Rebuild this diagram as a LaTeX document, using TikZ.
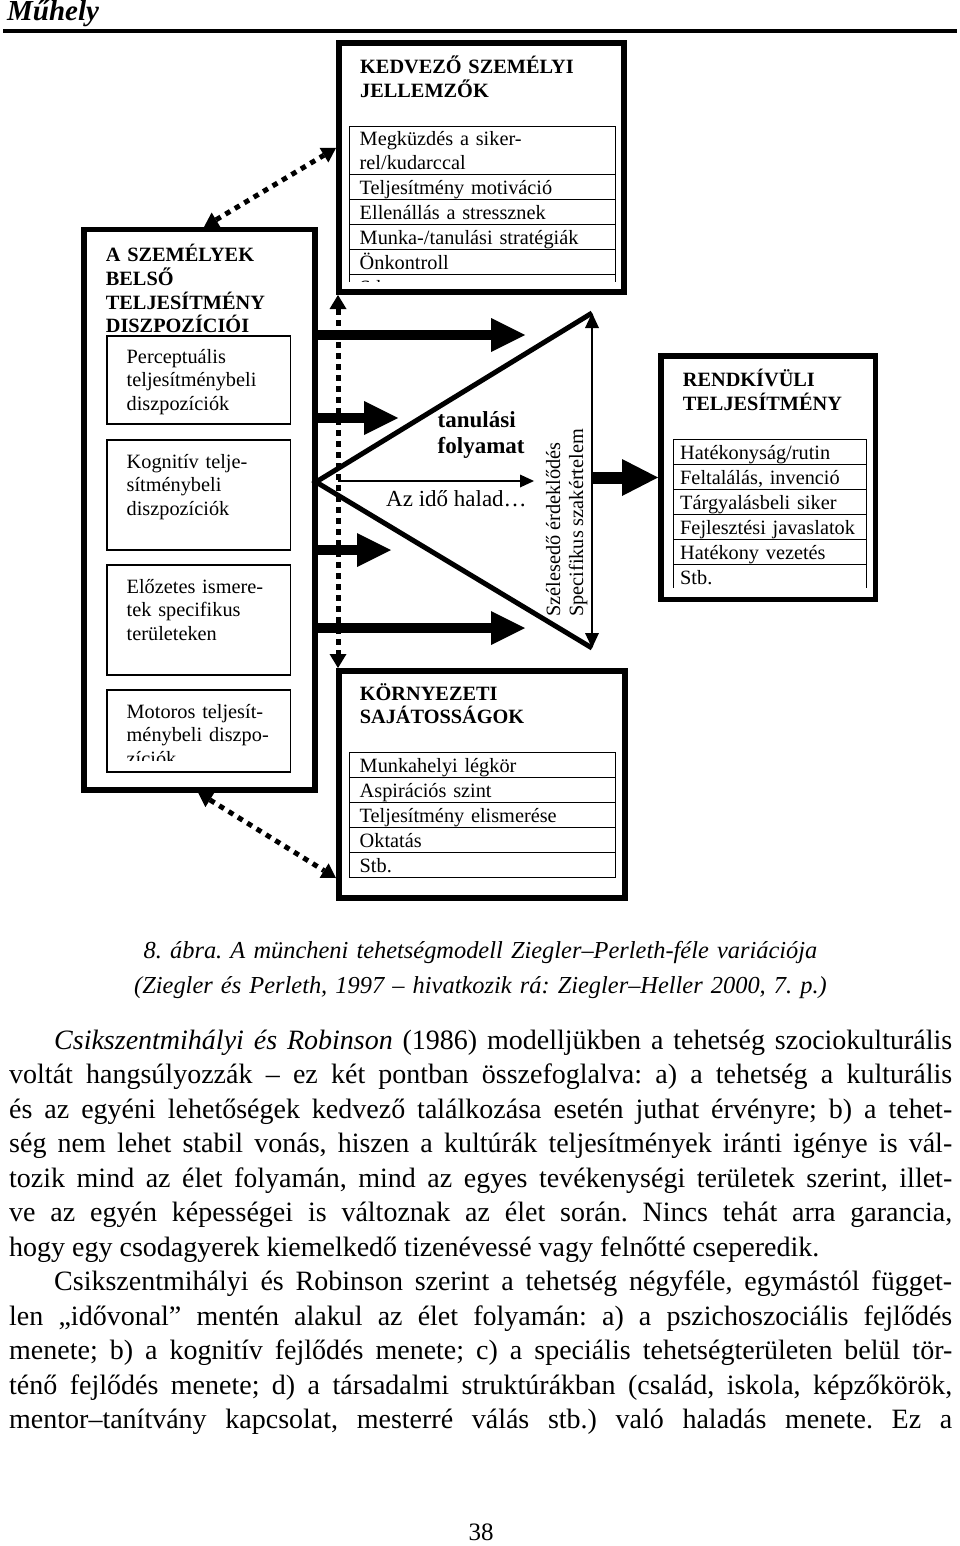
\documentclass[tikz,border=0pt]{standalone}
\usepackage{fontspec}
\setmainfont{Liberation Serif}
\usetikzlibrary{arrows.meta}
\frenchspacing
\newcommand\diagsize{\fontsize{20.3pt}{23.7pt}\selectfont}
\newcommand\learnsize{\fontsize{23pt}{26pt}\selectfont}
\newcommand\capsize{\fontsize{24.4pt}{35pt}\selectfont}
\newcommand\bodysize{\fontsize{28pt}{34.5pt}\selectfont}
\newcommand\headsize{\fontsize{29pt}{30pt}\selectfont}
\newcommand\pagesize{\fontsize{25pt}{30pt}\selectfont}
\newcommand\bodyline[1]{\hbox to 943pt{\spaceskip=.25em plus .8em minus .09em\relax #1}}
\tikzset{
  outerbox/.style={draw, line width=5.5pt, inner sep=0pt, anchor=north west},
  dispobox/.style={draw, fill=white, line width=1.8pt, inner sep=0pt, anchor=north west, minimum width=183.5pt},
  cell/.style={draw, line width=1.4pt, inner sep=0pt, anchor=north west, minimum height=25pt,
    text height=16.5pt, text depth=2.5pt, align=left, font=\diagsize},
  wide cell/.style={cell, minimum width=266pt, text width=246pt},
  narrow cell/.style={cell, minimum width=193pt, text width=180pt},
  boxtitle/.style={anchor=base west, inner sep=0pt, align=left, font=\diagsize\bfseries},
  boxtext/.style={anchor=base west, inner sep=0pt, align=left, text width=175pt, font=\diagsize},
  bigarrow/.style={line width=10pt, -{Triangle[length=34pt,width=34pt,line width=0pt]}},
  dotarrow/.style={line width=5pt, dash pattern=on 5.5pt off 5.5pt,
    {Triangle[length=14pt,width=17pt,line width=0pt]}-{Triangle[length=14pt,width=17pt,line width=0pt]}},
  thinarrow/.style={line width=1.3pt, -{Triangle[length=14pt,width=13pt,line width=0pt]}},
  spanarrow/.style={line width=1.3pt, {Triangle[length=15pt,width=14pt,line width=0pt]}-{Triangle[length=15pt,width=14pt,line width=0pt]}},
  triline/.style={line width=5pt}
}
\begin{document}
\begin{tikzpicture}[x=1pt,y=-1pt]
    \useasboundingbox (0,0) rectangle (960,1546);
    \fill [white] (0,0) rectangle (960,1546);

    \node [anchor=base west, inner sep=0pt, font=\headsize\bfseries\itshape] (head) at (7,21) {Műhely};
    \draw [line width=4pt] (3,31) -- (957,31);

    \node [outerbox, line width=6pt, minimum width=285pt, minimum height=249pt] (kedv) at (336,40) {};
    \node [boxtitle, text width=250pt] (kedvtitle) at (360,74) {KEDVEZŐ SZEMÉLYI\\JELLEMZŐK};
    \node [wide cell, minimum height=48pt, text depth=26.2pt] (kc0) at (349,126) {Megküzdés a siker-\\rel/kudarccal};
    \foreach \lbl [count=\i] in {Teljesítmény motiváció, Ellenállás a stressznek, Munka-/tanulási stratégiák, Önkontroll}
        \node [wide cell] (kc\i) at (349,149+25*\i) {\lbl};
    \begin{scope}
        \clip (340,270) rectangle (620,281);
        \node [wide cell] (kc5) at (349,274) {Stb.};
    \end{scope}

    \node [outerbox, minimum width=231pt, minimum height=560pt] (dispo) at (81,227) {};
    \node [boxtitle, text width=200pt] (dispotitle) at (105.7,261.7) {A SZEMÉLYEK\\BELSŐ\\TELJESÍTMÉNY\\DISZPOZÍCIÓI};
    \node [dispobox, minimum height=88pt] (perc) at (106,335) {};
    \node [boxtext] (perctext) at (126.5,363) {Perceptuális\\teljesítménybeli\\diszpozíciók};
    \node [dispobox, minimum height=110pt] (kogn) at (106,439) {};
    \node [boxtext] (kogntext) at (126.5,468) {Kognitív telje-\\sítménybeli\\diszpozíciók};
    \node [dispobox, minimum height=110pt] (elo) at (106,564) {};
    \node [boxtext] (elotext) at (126.5,593) {Előzetes ismere-\\tek specifikus\\területeken};
    \node [dispobox, minimum height=82pt] (motor) at (106,689) {};
    \begin{scope}
        \clip (100,695) rectangle (295,760);
        \node [boxtext] (motortext) at (126.5,718) {Motoros teljesít-\\ménybeli diszpo-\\zíciók};
    \end{scope}

    \node [outerbox, line width=6pt, minimum width=286pt, minimum height=227pt] (korny) at (336,668) {};
    \node [boxtitle, text width=250pt] (kornytitle) at (359.7,700) {KÖRNYEZETI\\SAJÁTOSSÁGOK};
    \foreach \lbl [count=\i from 0] in {Munkahelyi légkör, Aspirációs szint, Teljesítmény elismerése, Oktatás, Stb.}
        \node [wide cell] (nc\i) at (349,752+25*\i) {\lbl};

    \node [outerbox, minimum width=214.5pt, minimum height=243.5pt] (rend) at (658,353) {};
    \node [boxtitle, text width=190pt] (rendtitle) at (682.7,386.7) {RENDKÍVÜLI\\TELJESÍTMÉNY};
    \foreach \lbl [count=\i from 0] in {Hatékonyság/rutin, {Feltalálás, invenció}, Tárgyalásbeli siker, Fejlesztési javaslatok, Hatékony vezetés}
        \node [narrow cell] (rc\i) at (673,439+25*\i) {\lbl};
    \begin{scope}
        \clip (665,560) rectangle (875,587);
        \node [narrow cell] (rc5) at (673,564) {Stb.};
    \end{scope}

    \coordinate (spantop) at (592,313);
    \coordinate (spanbot) at (592,648);
    \coordinate (apex) at (316,482);
    \coordinate (a1) at (525,335);
    \coordinate (a2) at (398,418);
    \coordinate (a3) at (391,550);
    \coordinate (a4) at (525,628);
    \coordinate (timestart) at (338,481);
    \coordinate (timeend) at (534,481);

    \draw [triline] (spantop) -- (apex) -- (spanbot);
    \draw [spanarrow] (spanbot) -- (spantop);
    \foreach \tip in {a1,a2,a3,a4}
        \draw [bigarrow] (\tip -| dispo.east) -- (\tip);
    \draw [line width=12pt, -{Triangle[length=36pt,width=37pt,line width=0pt]}] (rend.west -| spantop) -- (rend.west);
    \draw [thinarrow] (timestart) -- (timeend);
    \draw [dotarrow] ([xshift=2pt]kedv.south west) -- ([xshift=2pt]korny.north west);
    \draw [dotarrow] ([xshift=123pt]dispo.north west) -- ([yshift=-108pt]kedv.north west);
    \draw [dotarrow] ([xshift=117pt]dispo.south west) -- ([yshift=-210pt]korny.north west);

    \node [anchor=base west, inner sep=0pt, align=left, text width=120pt, font=\learnsize\bfseries] (learn) at (437.5,427) {tanulási\\folyamat};
    \node [anchor=base west, inner sep=0pt, font=\learnsize] (time) at (386,506.7) {Az idő halad…};
    \node [anchor=base west, inner sep=0pt, rotate=90, font=\diagsize] (broad) at (560,617) {Szélesedő érdeklődés};
    \node [anchor=base west, inner sep=0pt, rotate=90, font=\diagsize] (expert) at (583,617) {Specifikus szakértelem};

    \node [anchor=base, inner sep=0pt, text width=900pt, align=center, font=\capsize\itshape] (caption) at (480.5,958)
        {8. ábra. A müncheni tehetségmodell Ziegler–Perleth-féle variációja\\(Ziegler és Perleth, 1997 – hivatkozik rá: Ziegler–Heller 2000, 7. p.)};

    \node [anchor=base west, inner sep=0pt, text width=943pt, font=\bodysize] (body) at (9,1049) {\frenchspacing
        \bodyline{\hspace*{45pt}\textit{Csikszentmihályi és Robinson} (1986) modelljükben a tehetség szociokulturális}
        \bodyline{voltát hangsúlyozzák – ez két pontban összefoglalva: a) a tehetség a kulturális}
        \bodyline{és az egyéni lehetőségek kedvező találkozása esetén juthat érvényre; b) a tehet-}
        \bodyline{ség nem lehet stabil vonás, hiszen a kultúrák teljesítmények iránti igénye is vál-}
        \bodyline{tozik mind az élet folyamán, mind az egyes tevékenységi területek szerint, illet-}
        \bodyline{ve az egyén képességei is változnak az élet során. Nincs tehát arra garancia,}
        \bodyline{hogy egy csodagyerek kiemelkedő tizenévessé vagy felnőtté cseperedik.\hfil}
        \bodyline{\hspace*{45pt}Csikszentmihályi és Robinson szerint a tehetség négyféle, egymástól függet-}
        \bodyline{len „idővonal” mentén alakul az élet folyamán: a) a pszichoszociális fejlődés}
        \bodyline{menete; b) a kognitív fejlődés menete; c) a speciális tehetségterületen belül tör-}
        \bodyline{ténő fejlődés menete; d) a társadalmi struktúrákban (család, iskola, képzőkörök,}
        \bodyline{mentor–tanítvány kapcsolat, mesterré válás stb.) való haladás menete. Ez a}};

    \node [anchor=base, inner sep=0pt, font=\pagesize] (page) at (481,1540) {38};
\end{tikzpicture}
\end{document}
